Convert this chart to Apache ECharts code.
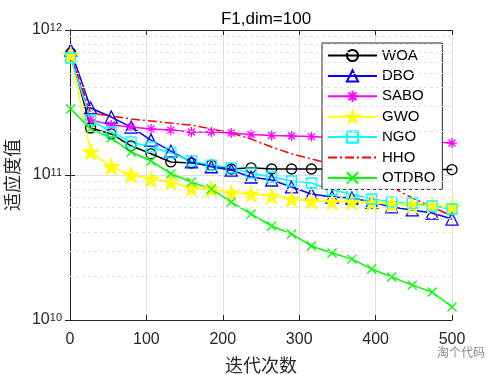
<!DOCTYPE html>
<html>
<head>
<meta charset="utf-8">
<script src="https://cdn.jsdelivr.net/npm/echarts@6/dist/echarts.min.js"></script>
<style>
  html, body { margin: 0; padding: 0; background: #fff; }
  #main { width: 500px; height: 375px; }
</style>
</head>
<body>
<div id="main"></div>
<script>
// 迭代次数（标记点位置）
var iters = [1, 27, 54, 80, 106, 132, 159, 185, 211, 237, 264, 290, 316, 343, 369, 395, 421, 448, 474, 500];

// 各算法收敛曲线
var woa   = [6.94e11, 2.11e11, 1.92e11, 1.59e11, 1.40e11, 1.23e11, 1.21e11, 1.17e11, 1.10e11, 1.12e11, 1.10e11, 1.10e11, 1.10e11, 1.10e11, 1.10e11, 1.09e11, 1.09e11, 1.09e11, 1.09e11, 1.09e11];
var dbo   = [7.28e11, 2.90e11, 2.51e11, 2.14e11, 1.74e11, 1.46e11, 1.23e11, 1.14e11, 1.08e11, 9.69e10, 9.24e10, 8.27e10, 7.40e10, 7.05e10, 6.94e10, 6.51e10, 6.02e10, 5.74e10, 5.47e10, 4.97e10];
var sabo  = [6.72e11, 2.40e11, 2.21e11, 2.14e11, 2.08e11, 2.04e11, 1.98e11, 1.98e11, 1.95e11, 1.90e11, 1.87e11, 1.86e11, 1.84e11, 1.81e11, 1.79e11, 1.76e11, 1.73e11, 1.70e11, 1.69e11, 1.66e11];
var gwo   = [6.72e11, 1.44e11, 1.14e11, 1.00e11, 9.38e10, 8.95e10, 8.13e10, 8.01e10, 7.51e10, 7.40e10, 7.16e10, 6.83e10, 6.62e10, 6.51e10, 6.51e10, 6.41e10, 6.31e10, 6.21e10, 6.11e10, 6.02e10];
var ngo   = [6.41e11, 2.40e11, 1.98e11, 1.69e11, 1.56e11, 1.42e11, 1.25e11, 1.17e11, 1.12e11, 1.03e11, 9.69e10, 9.09e10, 8.81e10, 7.88e10, 7.40e10, 6.83e10, 6.51e10, 6.41e10, 6.11e10, 5.83e10];
var hho   = [6.72e11, 2.68e11, 2.55e11, 2.43e11, 2.36e11, 2.28e11, 2.21e11, 2.08e11, 1.95e11, 1.77e11, 1.56e11, 1.40e11, 1.29e11, 1.19e11, 1.08e11, 9.69e10, 8.27e10, 6.94e10, 6.02e10, 5.22e10];
var otdbo = [2.85e11, 2.08e11, 1.80e11, 1.44e11, 1.25e11, 1.02e11, 8.95e10, 8.01e10, 6.51e10, 5.38e10, 4.45e10, 3.92e10, 3.24e10, 2.90e10, 2.63e10, 2.25e10, 1.98e10, 1.74e10, 1.56e10, 1.23e10];

// 对数轴次网格线
var minorGrid = [2e10, 3e10, 4e10, 5e10, 6e10, 7e10, 8e10, 9e10, 2e11, 3e11, 4e11, 5e11, 6e11, 7e11, 8e11, 9e11];

var names = ['WOA', 'DBO', 'SABO', 'GWO', 'NGO', 'HHO', 'OTDBO'];

var starPath = 'path://M10,0L12.245,6.91L19.51,6.91L13.633,11.18L15.88,18.09L10,13.82L4.12,18.09L6.367,11.18L0.49,6.91L7.755,6.91Z';
var asteriskPath = 'path://M5,0L5,10M0,5L10,5M1.5,1.5L8.5,8.5M8.5,1.5L1.5,8.5';
var crossPath = 'path://M0,0L10,10M10,0L0,10';

function pairs(vals) {
    return vals.map(function(v, i) { return [iters[i], v]; });
}

function makeSeries(name, vals, color, symbol, size, fill, extra) {
    var s = {
        name: name,
        type: 'line',
        data: pairs(vals),
        symbol: symbol,
        symbolSize: size,
        showSymbol: symbol !== 'none',
        lineStyle: { color: color, width: 1.5 },
        itemStyle: { color: fill, borderColor: color, borderWidth: 1.3 },
        z: 3
    };
    if (extra) Object.assign(s.lineStyle, extra);
    return s;
}

var myChart = echarts.init(document.getElementById('main'));

var tickFont = { color: '#262626', fontFamily: 'Liberation Sans, Arial, sans-serif', fontSize: 16 };

// 图例：HHO 只显示点划线
var legendData = names.map(function(n) {
    if (n === 'HHO') return { name: n, itemStyle: { opacity: 0 } };
    return { name: n };
});

var option = {
    animation: false,
    backgroundColor: '#fff',
    title: {
        text: 'F1,dim=100',
        left: 261,
        textAlign: 'center',
        top: 6,
        textStyle: { color: '#000', fontWeight: 'normal', fontSize: 17, fontFamily: 'Liberation Sans, Arial, sans-serif' }
    },
    grid: { left: 70, right: 48, top: 30, bottom: 55, outerBoundsMode: 'none', containLabel: false },
    legend: {
        orient: 'vertical',
        left: 322,
        top: 43,
        data: legendData,
        itemWidth: 49,
        itemHeight: 14,
        itemGap: 5.4,
        padding: [5, 7, 4, 5],
        backgroundColor: '#fff',
        borderColor: '#262626',
        borderWidth: 1,
        borderRadius: 0,
        textStyle: { color: '#000', fontSize: 15, lineHeight: 15, fontFamily: 'Liberation Sans, Arial, sans-serif' }
    },
    xAxis: [{
        type: 'value',
        min: 0,
        max: 500,
        interval: 100,
        name: '迭代次数',
        nameLocation: 'middle',
        nameGap: 36,
        nameTextStyle: { color: '#262626', fontSize: 18, fontFamily: 'Noto Sans CJK SC' },
        axisLine: { show: true, lineStyle: { color: '#262626', width: 1 } },
        axisTick: { show: true, inside: true, length: 5, lineStyle: { color: '#262626' } },
        axisLabel: Object.assign({ margin: 12 }, tickFont),
        splitLine: { show: true, lineStyle: { color: '#dedede', width: 1 } }
    }, {
        type: 'value',
        position: 'top',
        min: 0,
        max: 500,
        interval: 100,
        axisLine: { show: true, lineStyle: { color: '#262626', width: 1 } },
        axisTick: { show: true, inside: true, length: 5, lineStyle: { color: '#262626' } },
        axisLabel: { show: false },
        splitLine: { show: false }
    }],
    yAxis: [{
        type: 'log',
        logBase: 10,
        min: 1e10,
        max: 1e12,
        name: '适应度值',
        nameLocation: 'middle',
        nameRotate: 90,
        nameGap: 47,
        nameTextStyle: { color: '#262626', fontSize: 18, fontFamily: 'Noto Sans CJK SC' },
        axisLine: { show: true, lineStyle: { color: '#262626', width: 1 } },
        axisTick: { show: true, inside: true, length: 5, lineStyle: { color: '#262626' } },
        axisLabel: {
            margin: 8,
            formatter: function(value) {
                return '{b|10}{s|' + Math.round(Math.log10(value)) + '}';
            },
            rich: {
                b: { color: '#262626', fontSize: 16, lineHeight: 16, verticalAlign: 'bottom', fontFamily: 'Liberation Sans, Arial, sans-serif' },
                s: { color: '#262626', fontSize: 11, lineHeight: 11, verticalAlign: 'top', fontFamily: 'Liberation Sans, Arial, sans-serif' }
            }
        },
        splitLine: { show: true, lineStyle: { color: '#dedede', width: 1 } }
    }, {
        type: 'log',
        logBase: 10,
        min: 1e10,
        max: 1e12,
        position: 'right',
        axisLine: { show: true, lineStyle: { color: '#262626', width: 1 } },
        axisTick: { show: true, inside: true, length: 5, lineStyle: { color: '#262626' } },
        axisLabel: { show: false },
        splitLine: { show: false }
    }],
    graphic: [{
        type: 'text',
        left: 437,
        top: 346,
        style: { text: '淘个代码', fill: '#8a8a8a', fontSize: 12, fontFamily: 'Noto Sans CJK SC' }
    }],
    series: [
        {
            name: 'grid-minor',
            type: 'line',
            data: [],
            z: 1,
            silent: true,
            markLine: {
                silent: true,
                symbol: ['none', 'none'],
                label: { show: false },
                lineStyle: { color: '#e2e2e2', type: [3, 3], width: 1 },
                data: minorGrid.map(function(v) { return { yAxis: v }; })
            }
        },
        makeSeries('WOA', woa, '#000000', 'circle', 10, 'rgba(0,0,0,0)'),
        makeSeries('DBO', dbo, '#0000ff', 'triangle', 12, 'rgba(0,0,0,0)'),
        makeSeries('SABO', sabo, '#ff00ff', asteriskPath, 10, '#ff00ff'),
        makeSeries('GWO', gwo, '#ffff00', starPath, 15, '#ffff00'),
        makeSeries('NGO', ngo, '#00ffff', 'rect', 10, 'rgba(0,0,0,0)'),
        makeSeries('HHO', hho, '#ff0000', 'none', 0, '#ff0000', { type: [9, 3, 2, 3] }),
        makeSeries('OTDBO', otdbo, '#00ff00', crossPath, 9, '#00ff00')
    ]
};

myChart.setOption(option);
</script>
</body>
</html>
